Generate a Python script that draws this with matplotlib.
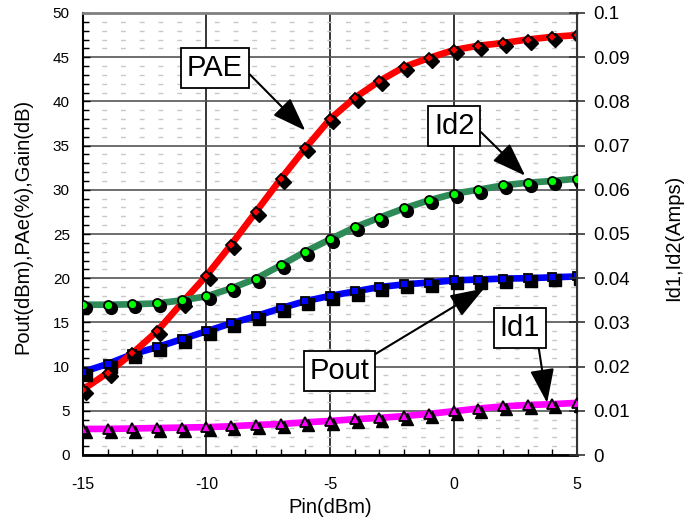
import matplotlib
matplotlib.use('Agg')
import matplotlib.pyplot as plt
from matplotlib import transforms
from matplotlib.ticker import MultipleLocator, FuncFormatter

# Data
pin = list(range(-15, 6))
pae = [7.4, 9.3, 11.5, 14.0, 17.2, 20.3, 23.8, 27.5, 31.2, 34.7, 38.0,
       40.4, 42.3, 43.9, 44.9, 45.8, 46.3, 46.6, 47.0, 47.3, 47.5]
pout = [9.4, 10.3, 11.4, 12.2, 13.1, 14.0, 14.9, 15.7, 16.6, 17.4, 18.0,
        18.5, 19.0, 19.3, 19.5, 19.75, 19.85, 19.95, 20.0, 20.1, 20.2]
id2 = [0.0340, 0.0340, 0.0341, 0.0343, 0.0350, 0.0359, 0.0377, 0.0399, 0.0429, 0.0460, 0.0488,
       0.0515, 0.0537, 0.0558, 0.0576, 0.0591, 0.0600, 0.0610, 0.0616, 0.0620, 0.0625]
id1 = [0.0059, 0.0059, 0.0060, 0.0061, 0.0062, 0.0063, 0.0065, 0.0068, 0.0070, 0.0074, 0.0077,
       0.0081, 0.0084, 0.0088, 0.0093, 0.0099, 0.0105, 0.0110, 0.0113, 0.0115, 0.0118]

plt.rcParams['font.family'] = ['Liberation Sans', 'DejaVu Sans']
plt.rcParams['axes.unicode_minus'] = False

fig = plt.figure(figsize=(6.94, 5.20), dpi=100)
ax = fig.add_axes([83 / 694, 65 / 520, 494 / 694, 442 / 520])
ax2 = ax.twinx()


def series(a, y, lc, mk, fc, ms):
    shadow = transforms.offset_copy(a.transData, fig=fig, x=2.2, y=-2.2, units='points')
    a.plot(pin, y, color=lc, lw=4.8, zorder=2)
    a.plot(pin, y, ls='none', marker=mk, ms=ms + 2, color='black', transform=shadow, zorder=3)
    a.plot(pin, y, ls='none', marker=mk, ms=ms, mfc=fc, mec='black', mew=1.3, zorder=4)


series(ax, pout, '#0000ff', 's', '#0000ff', 6)
series(ax, pae, '#ff0000', 'D', '#ff0000', 5.5)
series(ax2, id1, '#ff00ff', '^', '#ff00ff', 6.5)
series(ax2, id2, '#2e8b57', 'o', '#00ff00', 6.5)

ax.set_xlim(-15, 5)
ax.set_ylim(0, 50)
ax2.set_ylim(0, 0.1)

ax.xaxis.set_major_locator(MultipleLocator(5))
ax.xaxis.set_minor_locator(MultipleLocator(1))
ax.yaxis.set_major_locator(MultipleLocator(5))
ax.yaxis.set_minor_locator(MultipleLocator(1))
ax2.yaxis.set_major_locator(MultipleLocator(0.01))
ax2.yaxis.set_major_formatter(FuncFormatter(lambda v, p: f'{round(v, 3):g}'))

# grid
ax.yaxis.grid(True, which='minor', color='#c8c8c8', lw=1, ls=(0, (3.5, 10)))
ax.yaxis.grid(True, which='major', color='#555555', lw=1.2, ls='-')
ax.xaxis.grid(True, which='major', color='black', lw=1.1, ls='-', snap=True)

# ticks
ax.tick_params(axis='x', which='major', direction='in', length=0, labelsize=11.5, pad=16, top=False)
ax.tick_params(axis='x', which='minor', direction='in', length=4, width=1, top=False)
ax.tick_params(axis='y', which='major', direction='in', length=5, width=1, labelsize=11, pad=9.5, right=False)
ax.tick_params(axis='y', which='minor', direction='in', length=4, width=1, right=False)
ax2.tick_params(axis='y', which='major', direction='inout', length=11, width=1.2,
                color='#333333', labelsize=13.5, pad=6.5)

# spines
ax.spines['left'].set_linewidth(1.5)
ax.spines['bottom'].set_linewidth(2)
ax.spines['top'].set_color('#808080')
ax.spines['top'].set_linewidth(2)
for s in ['left', 'top', 'bottom']:
    ax2.spines[s].set_visible(False)
ax2.spines['right'].set_color('#333333')
ax2.spines['right'].set_linewidth(1.5)

# labels
ax.set_xlabel('Pin(dBm)', fontsize=14.5, labelpad=4)
fig.text(23 / 694, 1 - 226 / 520, 'Pout(dBm),PAe(%),Gain(dB)', rotation=90,
         ha='center', va='center', fontsize=14.5)
fig.text(674 / 694, 1 - 238 / 520, 'Id1,Id2(Amps)', rotation=90,
         ha='center', va='center', fontsize=14.5)

# callouts
box = dict(boxstyle='square,pad=0.2', fc='white', ec='black', lw=1.3)


def callout(text, xy, xytext, relpos):
    ax2.annotate(text, xy=xy, xycoords=ax.transData, xytext=xytext, textcoords=ax.transData,
                 fontsize=21, ha='center', va='center', bbox=box, zorder=10,
                 arrowprops=dict(arrowstyle='-|>,head_length=1.4,head_width=0.5',
                                 mutation_scale=15, color='black', lw=1.5,
                                 relpos=relpos, shrinkA=0, shrinkB=0))


callout('PAE', (-6.0, 36.7), (-9.65, 43.8), (1, 0.5))
callout('Id2', (2.9, 31.6), (0.03, 37.25), (1, 0.5))
callout('Pout', (1.24, 18.85), (-4.62, 9.48), (0.92, 0.88))
callout('Id1', (3.79, 5.9), (2.68, 14.33), (0.95, 0))

plt.savefig('out.png', dpi=100)
